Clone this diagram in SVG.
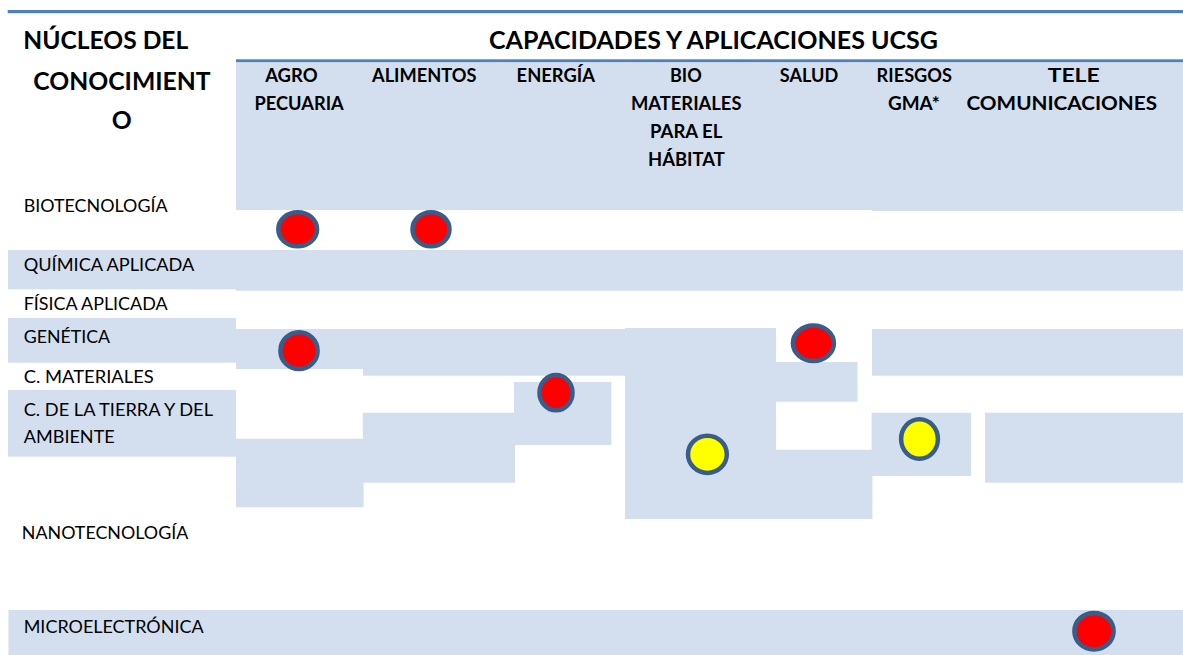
<svg xmlns="http://www.w3.org/2000/svg" width="1183" height="655" viewBox="0 0 1183 655">
<style>
.cell{fill:#D3DFEE}
.rule{fill:#4F81BD}
.t{font-family:Lato,"Liberation Sans",sans-serif;fill:#000}
.title{font-size:24.5px;font-weight:bold}
.col{font-size:18px;font-weight:bold}
.row{font-size:18px}
.dot{stroke:#385D8A;stroke-width:4.5}
.red{fill:#FF0000}
.yel{fill:#FFFF00}
</style>
<rect width="1183" height="655" fill="#FFFFFF"/>
<g id="cells">
<rect class="cell" x="236" y="62" width="637" height="148"/>
<rect class="cell" x="872" y="62" width="311" height="149"/>
<rect class="cell" x="8" y="250" width="228" height="39.3"/>
<rect class="cell" x="236" y="250" width="947" height="40.7"/>
<rect class="cell" x="8" y="318" width="228" height="44.7"/>
<rect class="cell" x="236" y="329" width="127" height="40"/>
<rect class="cell" x="363" y="329" width="263" height="46.7"/>
<rect class="cell" x="872" y="329" width="311" height="46.7"/>
<rect class="cell" x="625" y="328" width="151" height="191"/>
<rect class="cell" x="776" y="362" width="81.5" height="39.7"/>
<rect class="cell" x="776" y="449.7" width="96.4" height="69.3"/>
<rect class="cell" x="8" y="390" width="228" height="66.7"/>
<rect class="cell" x="514" y="382" width="97.4" height="63"/>
<rect class="cell" x="362.8" y="412.7" width="152.2" height="70"/>
<rect class="cell" x="236" y="438.7" width="127.6" height="68.6"/>
<rect class="cell" x="871.6" y="412.7" width="99.4" height="63.3"/>
<rect class="cell" x="985" y="412.7" width="198" height="70"/>
<rect class="cell" x="8.4" y="610" width="1174.6" height="45"/>
</g>
<g id="rules">
<rect class="rule" x="7.7" y="10" width="1175.3" height="3.2"/>
<rect class="rule" x="236" y="59.3" width="947" height="2.8"/>
</g>
<g id="titles" class="t title">
<text x="23.3" y="49.3" textLength="165" lengthAdjust="spacingAndGlyphs">NÚCLEOS DEL</text>
<text x="33.3" y="90" textLength="177.4" lengthAdjust="spacingAndGlyphs">CONOCIMIENT</text>
<text x="111.7" y="129.3" textLength="20" lengthAdjust="spacingAndGlyphs">O</text>
<text x="489" y="49.3" textLength="449" lengthAdjust="spacingAndGlyphs">CAPACIDADES Y APLICACIONES UCSG</text>
</g>
<g id="column-headers" class="t col">
<text x="265.2" y="82" textLength="52.4" lengthAdjust="spacingAndGlyphs">AGRO</text>
<text x="254.5" y="110" textLength="89.2" lengthAdjust="spacingAndGlyphs">PECUARIA</text>
<text x="372" y="82" textLength="104.5" lengthAdjust="spacingAndGlyphs">ALIMENTOS</text>
<text x="516.6" y="82" textLength="78.4" lengthAdjust="spacingAndGlyphs">ENERGÍA</text>
<text x="670" y="82" textLength="31.7" lengthAdjust="spacingAndGlyphs">BIO</text>
<text x="631" y="110" textLength="110.5" lengthAdjust="spacingAndGlyphs">MATERIALES</text>
<text x="650" y="138" textLength="72.4" lengthAdjust="spacingAndGlyphs">PARA EL</text>
<text x="648" y="166" textLength="76.7" lengthAdjust="spacingAndGlyphs">HÁBITAT</text>
<text x="779.8" y="82" textLength="58.5" lengthAdjust="spacingAndGlyphs">SALUD</text>
<text x="876.6" y="82" textLength="75.4" lengthAdjust="spacingAndGlyphs">RIESGOS</text>
<text x="888" y="110" textLength="51.7" lengthAdjust="spacingAndGlyphs">GMA*</text>
<text x="1047.7" y="82" textLength="52" lengthAdjust="spacingAndGlyphs">TELE</text>
<text x="966.5" y="110" textLength="190.5" lengthAdjust="spacingAndGlyphs">COMUNICACIONES</text>
</g>
<g id="row-labels" class="t row">
<text x="23.7" y="211.7" textLength="143.9" lengthAdjust="spacingAndGlyphs">BIOTECNOLOGÍA</text>
<text x="23.7" y="270.7" textLength="170.7" lengthAdjust="spacingAndGlyphs">QUÍMICA APLICADA</text>
<text x="23.7" y="310" textLength="143.9" lengthAdjust="spacingAndGlyphs">FÍSICA APLICADA</text>
<text x="23.7" y="343.3" textLength="86.3" lengthAdjust="spacingAndGlyphs">GENÉTICA</text>
<text x="23.7" y="383.3" textLength="130.1" lengthAdjust="spacingAndGlyphs">C. MATERIALES</text>
<text x="23.7" y="416" textLength="189.3" lengthAdjust="spacingAndGlyphs">C. DE LA TIERRA Y DEL</text>
<text x="23.7" y="443.3" textLength="91.1" lengthAdjust="spacingAndGlyphs">AMBIENTE</text>
<text x="21.8" y="539.3" textLength="166.5" lengthAdjust="spacingAndGlyphs">NANOTECNOLOGÍA</text>
<text x="23.7" y="633.3" textLength="179.9" lengthAdjust="spacingAndGlyphs">MICROELECTRÓNICA</text>
</g>
<g id="markers">
<ellipse class="dot red" cx="297.7" cy="229.3" rx="19.4" ry="17"/>
<ellipse class="dot red" cx="431" cy="229.3" rx="18.5" ry="17"/>
<ellipse class="dot red" cx="299" cy="350.7" rx="18.6" ry="18.4"/>
<ellipse class="dot red" cx="556" cy="392.7" rx="16.5" ry="17.6"/>
<ellipse class="dot red" cx="813.4" cy="343.3" rx="20.5" ry="17.8"/>
<ellipse class="dot yel" cx="707.4" cy="454.3" rx="19.4" ry="18.6"/>
<ellipse class="dot yel" cx="919.5" cy="439" rx="18.4" ry="19.8"/>
<ellipse class="dot red" cx="1094" cy="631.2" rx="19.6" ry="18.3"/>
</g>
</svg>
